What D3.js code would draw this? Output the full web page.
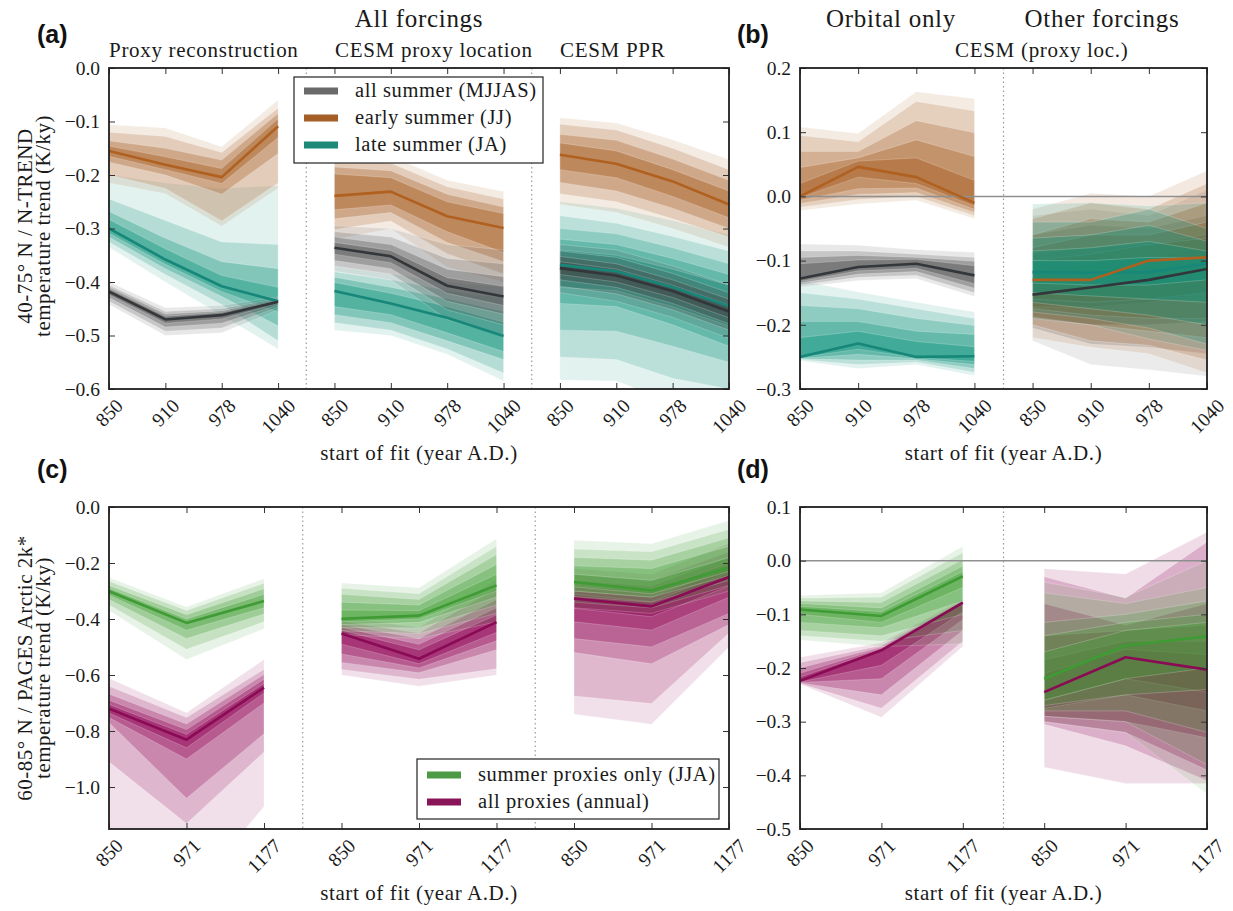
<!DOCTYPE html>
<html>
<head>
<meta charset="utf-8">
<script src="https://cdn.jsdelivr.net/npm/d3@7"></script>
<style>
  body { margin: 0; background: #fff; }
</style>
</head>
<body>
<svg width="1233" height="911"></svg>
<script>
// tick labels
const yearsTop = ["850", "910", "978", "1040"]
const yearsBottom = ["850", "971", "1177"]

// ---- panel (a): proxy reconstruction ----
const a1GrayMid = [-0.418, -0.470, -0.462, -0.437]
const a1GrayHi = [[-0.400, -0.448, -0.444, -0.428], [-0.406, -0.455, -0.450, -0.431], [-0.410, -0.460, -0.454, -0.433], [-0.413, -0.464, -0.457, -0.435]]
const a1GrayLo = [[-0.442, -0.500, -0.495, -0.452], [-0.436, -0.492, -0.486, -0.447], [-0.429, -0.484, -0.477, -0.443], [-0.424, -0.477, -0.469, -0.440]]
const a1OrangeMid = [-0.155, -0.181, -0.204, -0.109]
const a1OrangeHi = [[-0.106, -0.112, -0.147, -0.060], [-0.120, -0.128, -0.158, -0.075], [-0.136, -0.150, -0.172, -0.085], [-0.146, -0.166, -0.188, -0.095]]
const a1OrangeLo = [[-0.215, -0.235, -0.296, -0.225], [-0.200, -0.225, -0.286, -0.215], [-0.176, -0.200, -0.236, -0.160], [-0.165, -0.190, -0.216, -0.130]]
const a1TealMid = [-0.300, -0.358, -0.408, -0.436]
const a1TealHi = [[-0.200, -0.215, -0.225, -0.220], [-0.245, -0.285, -0.325, -0.330], [-0.268, -0.318, -0.362, -0.375], [-0.283, -0.338, -0.388, -0.410]]
const a1TealLo = [[-0.335, -0.400, -0.462, -0.525], [-0.325, -0.386, -0.442, -0.510], [-0.316, -0.375, -0.427, -0.482], [-0.309, -0.367, -0.418, -0.456]]

// CESM proxy location
const a2GrayMid = [-0.336, -0.352, -0.407, -0.427]
const a2GrayHi = [[-0.295, -0.300, -0.330, -0.340], [-0.306, -0.316, -0.356, -0.366], [-0.316, -0.330, -0.376, -0.390], [-0.326, -0.341, -0.392, -0.408]]
const a2GrayLo = [[-0.380, -0.396, -0.470, -0.500], [-0.370, -0.385, -0.452, -0.480], [-0.360, -0.375, -0.436, -0.460], [-0.348, -0.364, -0.421, -0.444]]
const a2OrangeMid = [-0.239, -0.231, -0.277, -0.299]
const a2OrangeHi = [[-0.160, -0.165, -0.210, -0.231], [-0.172, -0.178, -0.222, -0.245], [-0.185, -0.192, -0.236, -0.260], [-0.198, -0.205, -0.250, -0.272]]
const a2OrangeLo = [[-0.320, -0.300, -0.372, -0.400], [-0.302, -0.286, -0.347, -0.385], [-0.282, -0.270, -0.326, -0.362], [-0.265, -0.256, -0.306, -0.345]]
const a2TealMid = [-0.417, -0.440, -0.467, -0.501]
const a2TealHi = [[-0.370, -0.385, -0.400, -0.410], [-0.381, -0.396, -0.416, -0.430], [-0.391, -0.410, -0.431, -0.455], [-0.401, -0.421, -0.446, -0.475]]
const a2TealLo = [[-0.490, -0.500, -0.535, -0.585], [-0.476, -0.490, -0.525, -0.570], [-0.461, -0.476, -0.510, -0.545], [-0.446, -0.461, -0.495, -0.530]]

// CESM PPR
const a3GrayMid = [-0.374, -0.388, -0.417, -0.455]
const a3GrayHi = [[-0.330, -0.340, -0.370, -0.405], [-0.342, -0.354, -0.384, -0.420], [-0.352, -0.366, -0.396, -0.432], [-0.362, -0.376, -0.406, -0.443]]
const a3GrayLo = [[-0.420, -0.436, -0.466, -0.505], [-0.408, -0.422, -0.452, -0.490], [-0.396, -0.410, -0.440, -0.478], [-0.386, -0.400, -0.429, -0.467]]
const a3OrangeMid = [-0.162, -0.179, -0.212, -0.255]
const a3OrangeHi = [[-0.093, -0.103, -0.134, -0.171], [-0.105, -0.116, -0.150, -0.190], [-0.124, -0.135, -0.170, -0.210], [-0.140, -0.155, -0.190, -0.230]]
const a3OrangeLo = [[-0.255, -0.270, -0.300, -0.335], [-0.235, -0.250, -0.282, -0.316], [-0.214, -0.230, -0.262, -0.300], [-0.190, -0.205, -0.240, -0.280]]
const a3TealMid = [-0.368, -0.380, -0.410, -0.445]
const a3TealHi = [[-0.250, -0.262, -0.285, -0.312], [-0.276, -0.290, -0.315, -0.342], [-0.300, -0.310, -0.336, -0.366], [-0.320, -0.330, -0.356, -0.386], [-0.340, -0.350, -0.376, -0.406]]
const a3TealLo = [[-0.583, -0.585, -0.625, -0.650], [-0.540, -0.545, -0.580, -0.600], [-0.490, -0.492, -0.520, -0.550], [-0.440, -0.446, -0.480, -0.520], [-0.410, -0.416, -0.446, -0.482]]

// ---- panel (b): orbital only ----
const b1GrayMid = [-0.128, -0.110, -0.105, -0.123]
const b1GrayHi = [[-0.074, -0.076, -0.083, -0.087], [-0.085, -0.085, -0.090, -0.095], [-0.095, -0.092, -0.095, -0.101], [-0.105, -0.099, -0.098, -0.108]]
const b1GrayLo = [[-0.141, -0.131, -0.128, -0.156], [-0.138, -0.126, -0.123, -0.150], [-0.135, -0.121, -0.117, -0.143], [-0.132, -0.116, -0.112, -0.136]]
const b1OrangeMid = [0.000, 0.046, 0.030, -0.010]
const b1OrangeHi = [[0.108, 0.098, 0.163, 0.152], [0.095, 0.085, 0.148, 0.133], [0.070, 0.070, 0.118, 0.099], [0.045, 0.060, 0.088, 0.062], [0.020, 0.055, 0.060, 0.025]]
const b1OrangeLo = [[-0.022, -0.012, -0.006, -0.035], [-0.017, -0.005, 0.000, -0.030], [-0.011, 0.003, 0.006, -0.025], [-0.006, 0.012, 0.013, -0.020], [-0.002, 0.030, 0.020, -0.015]]
const b1TealMid = [-0.250, -0.229, -0.250, -0.249]
const b1TealHi = [[-0.131, -0.149, -0.165, -0.180], [-0.150, -0.160, -0.175, -0.190], [-0.170, -0.175, -0.190, -0.201], [-0.195, -0.195, -0.210, -0.215], [-0.220, -0.210, -0.226, -0.234]]
const b1TealLo = [[-0.256, -0.268, -0.262, -0.279], [-0.254, -0.262, -0.258, -0.274], [-0.253, -0.255, -0.255, -0.268], [-0.252, -0.246, -0.253, -0.262], [-0.251, -0.238, -0.251, -0.257]]

// other forcings
const b2GrayMid = [-0.153, -0.142, -0.130, -0.113]
const b2GrayHi = [[-0.030, -0.020, -0.030, 0.010], [-0.060, -0.045, -0.050, -0.030], [-0.090, -0.080, -0.075, -0.060], [-0.115, -0.105, -0.095, -0.080]]
const b2GrayLo = [[-0.225, -0.262, -0.270, -0.280], [-0.205, -0.230, -0.235, -0.245], [-0.190, -0.200, -0.200, -0.195], [-0.172, -0.172, -0.165, -0.150]]
const b2OrangeMid = [-0.130, -0.130, -0.100, -0.095]
const b2OrangeHi = [[-0.020, 0.005, 0.000, 0.040], [-0.035, -0.010, -0.020, 0.020], [-0.060, -0.035, -0.040, -0.010], [-0.080, -0.060, -0.060, -0.040], [-0.100, -0.090, -0.075, -0.065]]
const b2OrangeLo = [[-0.220, -0.235, -0.245, -0.275], [-0.200, -0.225, -0.232, -0.255], [-0.188, -0.200, -0.210, -0.220], [-0.175, -0.185, -0.190, -0.190], [-0.160, -0.165, -0.160, -0.150]]
const b2TealMid = [-0.118, -0.119, -0.118, -0.105]
const b2TealHi = [[-0.012, -0.010, -0.015, -0.010], [-0.040, -0.040, -0.020, -0.050], [-0.065, -0.060, -0.045, -0.070], [-0.085, -0.080, -0.070, -0.085], [-0.100, -0.100, -0.095, -0.095]]
const b2TealLo = [[-0.190, -0.200, -0.222, -0.240], [-0.180, -0.190, -0.205, -0.230], [-0.165, -0.175, -0.185, -0.200], [-0.150, -0.155, -0.160, -0.165], [-0.135, -0.138, -0.138, -0.130]]

// ---- panel (c): PAGES Arctic 2k ----
const c1GreenMid = [-0.301, -0.414, -0.336]
const c1GreenHi = [[-0.252, -0.357, -0.256], [-0.265, -0.370, -0.272], [-0.280, -0.385, -0.292], [-0.290, -0.400, -0.312]]
const c1GreenLo = [[-0.370, -0.545, -0.435], [-0.350, -0.508, -0.410], [-0.330, -0.470, -0.382], [-0.315, -0.440, -0.360]]
const c1PurpleMid = [-0.720, -0.831, -0.645]
const c1PurpleHi = [[-0.612, -0.735, -0.545], [-0.640, -0.752, -0.580], [-0.668, -0.775, -0.598], [-0.690, -0.795, -0.615], [-0.705, -0.812, -0.630]]
const c1PurpleLo = [[-1.300, -1.400, -1.070], [-0.910, -1.130, -0.875], [-0.770, -1.040, -0.810], [-0.752, -0.900, -0.700], [-0.736, -0.860, -0.665]]

const c2GreenMid = [-0.399, -0.388, -0.280]
const c2GreenHi = [[-0.271, -0.288, -0.113], [-0.290, -0.310, -0.140], [-0.312, -0.330, -0.170], [-0.340, -0.350, -0.205], [-0.368, -0.370, -0.240]]
const c2GreenLo = [[-0.455, -0.470, -0.410], [-0.442, -0.452, -0.380], [-0.430, -0.432, -0.350], [-0.420, -0.412, -0.322], [-0.410, -0.400, -0.300]]
const c2PurpleMid = [-0.452, -0.542, -0.411]
const c2PurpleHi = [[-0.395, -0.430, -0.260], [-0.408, -0.450, -0.290], [-0.420, -0.470, -0.330], [-0.430, -0.490, -0.360], [-0.440, -0.510, -0.385]]
const c2PurpleLo = [[-0.600, -0.640, -0.600], [-0.580, -0.615, -0.578], [-0.555, -0.592, -0.510], [-0.525, -0.575, -0.478], [-0.490, -0.560, -0.448]]

const c3GreenMid = [-0.268, -0.298, -0.217]
const c3GreenHi = [[-0.119, -0.131, -0.048], [-0.150, -0.160, -0.080], [-0.180, -0.190, -0.110], [-0.210, -0.220, -0.140], [-0.240, -0.262, -0.180]]
const c3GreenLo = [[-0.360, -0.380, -0.300], [-0.340, -0.360, -0.280], [-0.320, -0.340, -0.262], [-0.300, -0.322, -0.245], [-0.285, -0.310, -0.230]]
const c3PurpleMid = [-0.327, -0.355, -0.250]
const c3PurpleHi = [[-0.220, -0.240, -0.130], [-0.240, -0.262, -0.160], [-0.262, -0.282, -0.180], [-0.282, -0.302, -0.200], [-0.300, -0.322, -0.220], [-0.312, -0.338, -0.236]]
const c3PurpleLo = [[-0.740, -0.776, -0.500], [-0.675, -0.702, -0.450], [-0.520, -0.560, -0.420], [-0.470, -0.500, -0.380], [-0.410, -0.440, -0.322], [-0.362, -0.392, -0.282]]

// ---- panel (d) ----
const d1GreenMid = [-0.091, -0.103, -0.029]
const d1GreenHi = [[-0.065, -0.060, 0.027], [-0.070, -0.068, 0.015], [-0.075, -0.078, 0.002], [-0.080, -0.088, -0.010], [-0.085, -0.095, -0.020]]
const d1GreenLo = [[-0.148, -0.160, -0.155], [-0.140, -0.150, -0.130], [-0.130, -0.140, -0.100], [-0.115, -0.125, -0.075], [-0.100, -0.115, -0.050]]
const d1PurpleMid = [-0.224, -0.167, -0.078]
const d1PurpleHi = [[-0.180, -0.153, -0.072], [-0.190, -0.158, -0.074], [-0.200, -0.161, -0.075], [-0.210, -0.163, -0.076], [-0.217, -0.165, -0.077]]
const d1PurpleLo = [[-0.230, -0.292, -0.160], [-0.229, -0.275, -0.150], [-0.228, -0.250, -0.130], [-0.227, -0.220, -0.110], [-0.226, -0.195, -0.095]]

const d2GreenMid = [-0.220, -0.158, -0.141]
const d2GreenHi = [[-0.040, -0.068, 0.000], [-0.060, -0.080, -0.050], [-0.115, -0.100, -0.075], [-0.140, -0.115, -0.100], [-0.170, -0.130, -0.115]]
const d2GreenLo = [[-0.300, -0.320, -0.435], [-0.290, -0.300, -0.380], [-0.280, -0.280, -0.320], [-0.270, -0.250, -0.240], [-0.260, -0.220, -0.200]]
const d2PurpleMid = [-0.245, -0.180, -0.203]
const d2PurpleHi = [[-0.015, -0.025, 0.053], [-0.030, -0.070, 0.035], [-0.080, -0.120, -0.080], [-0.140, -0.130, -0.120], [-0.185, -0.150, -0.150], [-0.210, -0.165, -0.175]]
const d2PurpleLo = [[-0.385, -0.415, -0.415], [-0.305, -0.345, -0.410], [-0.300, -0.320, -0.390], [-0.290, -0.300, -0.330], [-0.275, -0.250, -0.280], [-0.260, -0.220, -0.245]]

const legendTop = ["all summer (MJJAS)", "early summer (JJ)", "late summer (JA)"]
const legendBottom = ["summer proxies only (JJA)", "all proxies (annual)"]

// colours: [band fill, line, legend patch]
const colGray = ["#454545", "#33363a", "#6a6a6a"]
const colOrange = ["#a4581c", "#b0601f", "#a45e26"]
const colTeal = ["#0f937c", "#17877a", "#1c8a76"]
const colGreen = ["#45a03a", "#3f9b34", "#4c9a45"]
const colPurple = ["#8e0152", "#8a0a55", "#891558"]

const SERIF = "'Liberation Serif', 'Times New Roman', serif"
const SANS = "'Liberation Sans', Arial, sans-serif"

let svg = d3.select("svg")

// op scales the band opacity of one series
function ser(col, mid, hi, lo, start, op) {
    return {col: col, mid: mid, hi: hi, lo: lo, start: start, op: op || 1}
}

const panels = [
    {left: 109, top: 68, width: 620, height: 321, xDomain: [0, 11], yDomain: [-0.6, 0.0],
        yTicks: d3.range(-6, 1).map(d => d / 10), labels: yearsTop, nGroup: 4, groups: 3, zero: false,
        series: [
            ser(colTeal, a1TealMid, a1TealHi, a1TealLo, 0), ser(colOrange, a1OrangeMid, a1OrangeHi, a1OrangeLo, 0), ser(colGray, a1GrayMid, a1GrayHi, a1GrayLo, 0),
            ser(colTeal, a2TealMid, a2TealHi, a2TealLo, 4), ser(colOrange, a2OrangeMid, a2OrangeHi, a2OrangeLo, 4), ser(colGray, a2GrayMid, a2GrayHi, a2GrayLo, 4),
            ser(colTeal, a3TealMid, a3TealHi, a3TealLo, 8), ser(colOrange, a3OrangeMid, a3OrangeHi, a3OrangeLo, 8), ser(colGray, a3GrayMid, a3GrayHi, a3GrayLo, 8, 1.15)
        ], lineOrder: [0, 2, 1, 3, 5, 4, 6, 8, 7]},
    {left: 800, top: 68, width: 407, height: 321, xDomain: [0, 7], yDomain: [-0.3, 0.2],
        yTicks: d3.range(-3, 3).map(d => d / 10), labels: yearsTop, nGroup: 4, groups: 2, zero: true,
        series: [
            ser(colTeal, b1TealMid, b1TealHi, b1TealLo, 0), ser(colOrange, b1OrangeMid, b1OrangeHi, b1OrangeLo, 0), ser(colGray, b1GrayMid, b1GrayHi, b1GrayLo, 0),
            ser(colGray, b2GrayMid, b2GrayHi, b2GrayLo, 4, 0.9), ser(colOrange, b2OrangeMid, b2OrangeHi, b2OrangeLo, 4, 1.1), ser(colTeal, b2TealMid, b2TealHi, b2TealLo, 4, 1.25)
        ], lineOrder: [0, 2, 1, 5, 3, 4]},
    {left: 109, top: 507, width: 620, height: 322, xDomain: [0, 8], yDomain: [-1.15, 0.0],
        yTicks: d3.range(-5, 1).map(d => d / 5), labels: yearsBottom, nGroup: 3, groups: 3, zero: false,
        series: [
            ser(colPurple, c1PurpleMid, c1PurpleHi, c1PurpleLo, 0), ser(colGreen, c1GreenMid, c1GreenHi, c1GreenLo, 0),
            ser(colPurple, c2PurpleMid, c2PurpleHi, c2PurpleLo, 3), ser(colGreen, c2GreenMid, c2GreenHi, c2GreenLo, 3),
            ser(colPurple, c3PurpleMid, c3PurpleHi, c3PurpleLo, 6), ser(colGreen, c3GreenMid, c3GreenHi, c3GreenLo, 6)
        ], lineOrder: [0, 1, 2, 3, 4, 5]},
    {left: 800, top: 507, width: 407, height: 322, xDomain: [0, 5], yDomain: [-0.5, 0.1],
        yTicks: d3.range(-5, 2).map(d => d / 10), labels: yearsBottom, nGroup: 3, groups: 2, zero: true,
        series: [
            ser(colPurple, d1PurpleMid, d1PurpleHi, d1PurpleLo, 0), ser(colGreen, d1GreenMid, d1GreenHi, d1GreenLo, 0),
            ser(colPurple, d2PurpleMid, d2PurpleHi, d2PurpleLo, 3, 1.15), ser(colGreen, d2GreenMid, d2GreenHi, d2GreenLo, 3, 0.9)
        ], lineOrder: [0, 1, 2, 3]}
]

panels.forEach(function (p, pi) {
    let x = d3.scaleLinear().domain(p.xDomain).range([p.left, p.left + p.width])
    let y = d3.scaleLinear().domain(p.yDomain).range([p.top + p.height, p.top])
    let bottom = p.top + p.height

    svg.append("clipPath").attr("id", "clip" + pi)
        .append("rect")
        .attr("x", p.left).attr("y", p.top)
        .attr("width", p.width).attr("height", p.height)

    let plot = svg.append("g").attr("clip-path", "url(#clip" + pi + ")")

    // quantile bands, outer to inner
    p.series.forEach(function (s) {
        let n = s.hi.length
        for (let k = 0; k < n; k++) {
            let pts = s.mid.map((m, i) => ({i: s.start + i, lo: s.lo[k][i], hi: s.hi[k][i]}))
            let area = d3.area()
                .x(d => x(d.i))
                .y0(d => y(d.lo))
                .y1(d => y(d.hi))
            plot.append("path")
                .attr("d", area(pts))
                .attr("fill", s.col[0])
                .attr("fill-opacity", Math.min(0.8, s.op * (0.12 + 0.28 * k / (n - 1))))
                .attr("stroke", "#fff")
                .attr("stroke-opacity", 0.35)
                .attr("stroke-width", 0.6)
        }
    })

    if (p.zero) {
        plot.append("line")
            .attr("x1", p.left).attr("x2", p.left + p.width)
            .attr("y1", y(0)).attr("y2", y(0))
            .attr("stroke", "#8f8f8f").attr("stroke-width", 1.5)
    }

    // median lines
    p.lineOrder.forEach(function (si) {
        let s = p.series[si]
        let line = d3.line().x((d, i) => x(s.start + i)).y(d => y(d))
        plot.append("path")
            .attr("d", line(s.mid))
            .attr("fill", "none")
            .attr("stroke", s.col[1])
            .attr("stroke-width", 2.6)
            .attr("stroke-linejoin", "round")
    })

    // dotted separators between groups
    for (let gi = 1; gi < p.groups; gi++) {
        let sx = x(gi * p.nGroup - 0.5)
        svg.append("line")
            .attr("x1", sx).attr("x2", sx)
            .attr("y1", p.top).attr("y2", bottom)
            .attr("stroke", "#9a9a9a").attr("stroke-width", 1.2)
            .attr("stroke-dasharray", "1.5,3")
    }

    let idx = d3.range(p.xDomain[0], p.xDomain[1] + 1)

    let styleAxis = function (g) {
        g.select(".domain").remove()
        g.selectAll(".tick line").attr("stroke", "#333").attr("stroke-width", 1)
    }

    svg.append("g").attr("transform", "translate(0," + bottom + ")")
        .call(d3.axisBottom(x).tickValues(idx).tickSize(-6).tickFormat(""))
        .call(styleAxis)
    svg.append("g").attr("transform", "translate(0," + p.top + ")")
        .call(d3.axisTop(x).tickValues(idx).tickSize(-6).tickFormat(""))
        .call(styleAxis)
    svg.append("g").attr("transform", "translate(" + p.left + ",0)")
        .call(d3.axisLeft(y).tickValues(p.yTicks).tickSize(-6).tickPadding(9).tickFormat(d3.format(".1f")))
        .call(styleAxis)
        .call(g => g.selectAll("text")
            .style("font-family", SERIF)
            .style("font-size", "19.5px")
            .attr("fill", "#1a1a1a"))
    svg.append("g").attr("transform", "translate(" + (p.left + p.width) + ",0)")
        .call(d3.axisRight(y).tickValues(p.yTicks).tickSize(-6).tickFormat(""))
        .call(styleAxis)

    // rotated x tick labels
    idx.forEach(function (i) {
        let t = svg.append("text")
            .style("font-family", SERIF)
            .style("font-size", "19.5px")
            .attr("fill", "#1a1a1a")
            .attr("text-anchor", "middle")
            .attr("dy", "0.35em")
            .text(p.labels[i % p.nGroup])
        let w = t.node().getComputedTextLength()
        let half = (w + 12) * 0.3536
        t.attr("transform", "translate(" + x(i) + "," + (bottom + 9 + half) + ") rotate(-45)")
    })

    // frame
    svg.append("rect")
        .attr("x", p.left).attr("y", p.top)
        .attr("width", p.width).attr("height", p.height)
        .attr("fill", "none")
        .attr("stroke", "#1e1e1e")
        .attr("stroke-width", 1.8)

    svg.append("text")
        .attr("x", p.left + p.width / 2)
        .attr("y", bottom + 71)
        .attr("text-anchor", "middle")
        .attr("fill", "#1a1a1a")
        .style("font-family", SERIF)
        .style("font-size", "21px")
        .style("letter-spacing", "0.6px")
        .text("start of fit (year A.D.)")
})

// panel letters
const letters = ["(a)", "(b)", "(c)", "(d)"]
const letterPos = [[37, 43], [737, 43], [37, 478], [737, 478]]
letters.forEach(function (l, i) {
    svg.append("text")
        .attr("x", letterPos[i][0]).attr("y", letterPos[i][1])
        .attr("fill", "#111")
        .style("font-family", SANS)
        .style("font-weight", "bold")
        .style("font-size", "25px")
        .text(l)
})

// headings
function heading(txt, xx, yy, size, anchor) {
    svg.append("text")
        .attr("x", xx).attr("y", yy)
        .attr("fill", "#1a1a1a")
        .attr("text-anchor", anchor)
        .style("font-family", SERIF)
        .style("font-size", size + "px")
        .style("letter-spacing", "0.7px")
        .text(txt)
}
heading("All forcings", 419, 27, 25, "middle")
heading("Orbital only", 891, 27, 25, "middle")
heading("Other forcings", 1102, 27, 25, "middle")
heading("Proxy reconstruction", 109, 57, 21, "start")
heading("CESM proxy location", 335, 57, 21, "start")
heading("CESM PPR", 560, 57, 21, "start")
heading("CESM (proxy loc.)", 955, 57, 21, "start")

// y-axis titles
function yTitle(lines, cy) {
    lines.forEach(function (t, i) {
        svg.append("text")
            .attr("transform", "translate(" + (32 + i * 18) + "," + cy + ") rotate(-90)")
            .attr("text-anchor", "middle")
            .attr("fill", "#1a1a1a")
            .style("font-family", SERIF)
            .style("font-size", "21px")
            .style("letter-spacing", "0.5px")
            .text(t)
    })
}
yTitle(["40-75° N / N-TREND", "temperature trend (K/ky)"], 226)
yTitle(["60-85° N / PAGES Arctic 2k*", "temperature trend (K/ky)"], 668)

// legends
function legend(items, cols, bx, by, bw, bh, pad) {
    svg.append("rect")
        .attr("x", bx).attr("y", by).attr("width", bw).attr("height", bh)
        .attr("fill", "#fff").attr("stroke", "#222").attr("stroke-width", 1.2)
    items.forEach(function (t, i) {
        let cy = by + pad + i * 27
        svg.append("line")
            .attr("x1", bx + 10).attr("x2", bx + 44)
            .attr("y1", cy).attr("y2", cy)
            .attr("stroke", cols[i][2]).attr("stroke-width", 7)
        svg.append("text")
            .attr("x", bx + 61).attr("y", cy + 6)
            .attr("fill", "#1a1a1a")
            .style("font-family", SERIF)
            .style("font-size", "20.5px")
            .style("letter-spacing", "0.6px")
            .text(t)
    })
}
legend(legendTop, [colGray, colOrange, colTeal], 294, 77, 249, 86, 14)
legend(legendBottom, [colGreen, colPurple], 417, 759, 302, 60, 16)
</script>
</body>
</html>
